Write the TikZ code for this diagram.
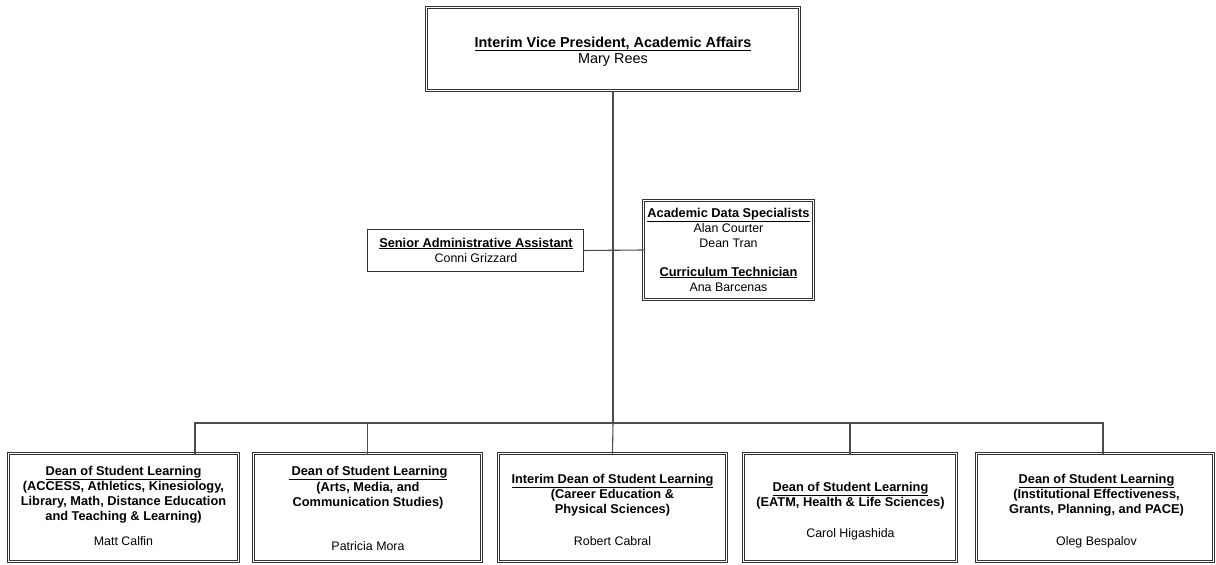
\documentclass[tikz,border=0pt]{standalone}
\usepackage{fontspec}
\setmainfont{Liberation Sans}
\begin{document}
\begin{tikzpicture}[x=1pt,y=-1pt,
  dbl/.style={draw=black!80, line width=0.7pt, double=white, double distance=1.6pt, inner sep=0pt, outer sep=0pt},
  sgl/.style={draw=black!80, line width=1pt, inner sep=0pt, outer sep=0pt},
  conn/.style={draw=black!70, line width=1.1pt},
  tl/.style={font=\bfseries\fontsize{12.8}{14.5}\selectfont, anchor=base, inner sep=0pt},
  nm/.style={font=\fontsize{12.4}{14.5}\selectfont, anchor=base, inner sep=0pt},
  tlbig/.style={font=\bfseries\fontsize{14.4}{16}\selectfont, anchor=base, inner sep=0pt},
  nmbig/.style={font=\fontsize{14.4}{16}\selectfont, anchor=base, inner sep=0pt}]
\useasboundingbox (0,0) rectangle (1216,565);

% boxes
\node[dbl, minimum width=373pt, minimum height=83pt] (vp) at (613,49) {};
\node[sgl, minimum width=216pt, minimum height=42pt] (sa) at (475.5,250.5) {};
\node[dbl, minimum width=170pt, minimum height=99pt] (ad) at (728.5,250) {};
\node[dbl, minimum width=230pt, minimum height=108pt] (d1) at (123.5,507.5) {};
\node[dbl, minimum width=228pt, minimum height=108pt] (d2) at (367.5,507.5) {};
\node[dbl, minimum width=228pt, minimum height=108pt] (d3) at (612.5,507.5) {};
\node[dbl, minimum width=213pt, minimum height=108pt] (d4) at (850,507.5) {};
\node[dbl, minimum width=237pt, minimum height=108pt] (d5) at (1095,507.5) {};

% connectors
\coordinate (j) at (613,423);
\draw[conn] (vp.south) -- (j);
\draw[conn] (sa.east) -- (ad.west);
\draw[conn] (j) -| ([xshift=71.5pt]d1.north);
\draw[conn] (j) -| (d2.north);
\draw[conn] (j) -- (d3.north);
\draw[conn] (j) -| (d4.north);
\draw[conn] (j) -| ([xshift=8pt]d5.north);

% top texts
\node[tlbig] (vpt) at (613,47) {\underline{Interim Vice President, Academic Affairs}};
\node[nmbig] (vpn) at (613,63) {Mary Rees};

\node[tl] (sat) at (476,247) {\underline{Senior Administrative Assistant}};
\node[nm] (san) at (476,262) {Conni Grizzard};

\node[tl] (adt1) at (728.5,217) {\underline{Academic Data Specialists}};
\node[nm] (adn1) at (728.5,232) {Alan Courter};
\node[nm] (adn2) at (728.5,247) {Dean Tran};
\node[tl] (adt2) at (728.5,276) {\underline{Curriculum Technician}};
\node[nm] (adn3) at (728.5,291) {Ana Barcenas};

% dean 1
\node[tl] (d1a) at (123.5,475.5) {\underline{Dean of Student Learning}};
\node[tl] (d1b) at (123.5,490.5) {(ACCESS, Athletics, Kinesiology,};
\node[tl] (d1c) at (123.5,505.5) {Library, Math, Distance Education};
\node[tl] (d1d) at (123.5,520) {and Teaching \& Learning)};
\node[nm] (d1n) at (123.5,545) {Matt Calfin};

% dean 2
\node[tl] (d2a) at (368,475.5) {\underline{\hspace{3pt}Dean of Student Learning}};
\node[tl] (d2b) at (368,491) {(Arts, Media, and};
\node[tl] (d2c) at (368,506) {Communication Studies)};
\node[nm] (d2n) at (368,550) {Patricia Mora};

% dean 3
\node[tl] (d3a) at (612.5,483.5) {\underline{Interim Dean of Student Learning}};
\node[tl] (d3b) at (612.5,498) {(Career Education \&};
\node[tl] (d3c) at (612.5,513) {Physical Sciences)};
\node[nm] (d3n) at (612.5,545) {Robert Cabral};

% dean 4
\node[tl] (d4a) at (850.5,491) {\underline{Dean of Student Learning}};
\node[tl] (d4b) at (850.5,506) {(EATM, Health \& Life Sciences)};
\node[nm] (d4n) at (850.5,537) {Carol Higashida};

% dean 5
\node[tl] (d5a) at (1096.5,483.5) {\underline{Dean of Student Learning}};
\node[tl] (d5b) at (1096.5,498) {(Institutional Effectiveness,};
\node[tl] (d5c) at (1096.5,513) {Grants, Planning, and PACE)};
\node[nm] (d5n) at (1096.5,545) {Oleg Bespalov};
\end{tikzpicture}
\end{document}
